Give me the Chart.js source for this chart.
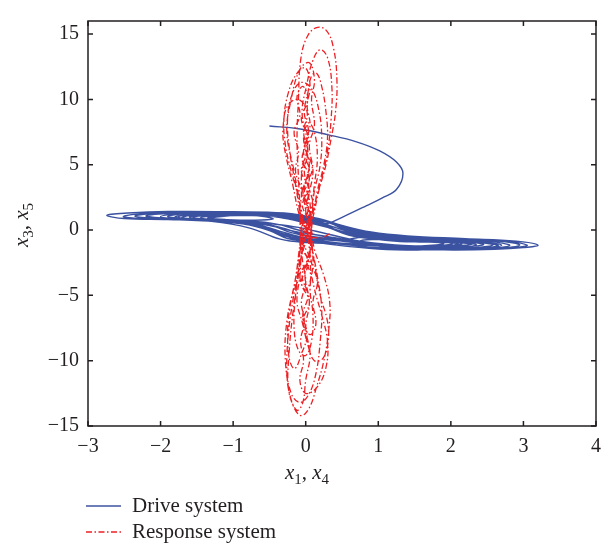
<!DOCTYPE html>
<html>
<head>
<meta charset="utf-8">
<script src="https://cdn.jsdelivr.net/npm/chart.js@4.4.1/dist/chart.umd.min.js"></script>
<style>
  html, body { margin: 0; padding: 0; background: #fff; }
  #wrap { width: 613px; height: 548px; }
</style>
</head>
<body>
<div id="wrap"><canvas id="phaseChart"></canvas></div>
<script>
/* ===== phase portrait data: (x1, x3) drive and (x4, x5) response ===== */

const seriesNames = ["Drive system", "Response system"];
const xTicks = [-3, -2, -1, 0, 1, 2, 3, 4];
const yTicks = [-15, -10, -5, 0, 5, 10, 15];

// drive system: start-up transient, then loops round the two scrolls
const drivePath = [
  [-0.50, 7.96], [-0.10, 7.75], [0.30, 7.30], [0.70, 6.75], [1.02, 6.05], [1.25, 5.20],
  [1.34, 4.33], [1.25, 3.10], [1.05, 2.45], [0.84, 1.87], [0.55, 1.10], [0.31, 0.52],
  [0.12, 0.45], [-0.25, 0.85],
  [-0.60, 1.15], [-1.20, 1.22], [-1.60, 1.10], [-1.70, 0.95], [-1.45, 0.80], [-0.95, 0.65], [-0.50, 0.35], [-0.15, -0.10], [0.25, -0.45],
  [0.80, -0.95], [1.50, -1.30], [2.20, -1.38], [2.58, -1.15], [2.30, -0.90], [1.70, -0.78], [1.10, -0.55], [0.60, -0.10], [0.25, 0.45],
  [-0.30, 1.20], [-1.10, 1.36], [-2.00, 1.33], [-2.40, 1.18], [-2.51, 1.01], [-2.20, 0.87], [-1.50, 0.72], [-0.90, 0.50], [-0.45, 0.00], [-0.20, -0.60], [0.30, -0.90],
  [1.10, -1.42], [1.90, -1.52], [2.60, -1.48], [3.00, -1.35], [3.20, -1.16], [2.90, -0.85], [2.20, -0.66], [1.40, -0.45], [0.90, -0.15], [0.50, 0.35], [0.20, 0.85],
  [-0.30, 1.30], [-1.00, 1.40], [-1.90, 1.42], [-2.45, 1.30], [-2.74, 1.13], [-2.50, 0.88], [-1.90, 0.80], [-1.30, 0.66], [-0.77, 0.15], [-0.35, -0.70], [0.00, -0.95],
  [0.60, -1.05], [1.30, -1.30], [1.90, -1.30], [2.26, -1.10], [2.00, -0.93], [1.50, -0.85], [1.00, -0.70], [0.75, -0.85], [1.00, -1.15],
  [1.60, -1.40], [2.40, -1.42], [2.81, -1.18], [2.50, -0.85], [1.80, -0.70], [1.10, -0.40], [0.60, 0.05], [0.30, 0.60],
  [-0.25, 1.00], [-0.80, 1.15], [-1.30, 1.12], [-1.55, 0.97], [-1.35, 0.82], [-0.90, 0.72], [-0.50, 0.50], [-0.10, 0.20], [0.30, -0.30],
  [0.80, -0.90], [1.40, -1.20], [1.85, -1.18], [2.03, -1.02], [1.85, -0.90], [1.40, -0.85], [0.90, -0.55], [0.50, -0.10], [0.15, 0.50],
  [-0.40, 1.15], [-1.10, 1.30], [-1.80, 1.28], [-2.20, 1.08], [-1.90, 0.90], [-1.40, 0.78], [-0.80, 0.58], [-0.35, 0.20], [0.00, -0.40], [0.40, -0.70],
  [1.20, -1.35], [2.00, -1.48], [2.60, -1.42], [2.95, -1.15], [2.65, -0.85], [2.00, -0.68], [1.30, -0.50], [0.80, -0.25], [0.40, 0.20], [0.15, 0.70],
  [-0.35, 1.10], [-0.90, 1.12], [-1.20, 1.02], [-1.30, 0.90], [-1.10, 0.80], [-0.70, 0.75], [-0.45, 0.85], [-0.60, 1.05], [-1.10, 1.18],
  [-1.60, 1.15], [-1.80, 1.00], [-1.55, 0.82], [-1.00, 0.68], [-0.60, 0.30], [-0.30, -0.30], [0.10, -0.75],
  [0.70, -1.10], [1.40, -1.35], [2.05, -1.33], [2.45, -1.12], [2.20, -0.90], [1.60, -0.80], [1.10, -0.60], [0.70, -0.30], [0.35, 0.30], [0.10, 0.65],
  [-0.50, 1.22], [-1.20, 1.30], [-1.75, 1.22], [-2.00, 1.04], [-1.75, 0.85], [-1.20, 0.72], [-0.70, 0.45], [-0.35, -0.10], [0.00, -0.60], [0.50, -0.85],
  [1.20, -1.25], [1.90, -1.42], [2.40, -1.38], [2.70, -1.17], [2.40, -0.90], [1.80, -0.75], [1.20, -0.60], [0.80, -0.55], [0.60, -0.75], [0.90, -1.05],
  [1.60, -1.25], [2.10, -1.22], [2.30, -1.05], [2.10, -0.92], [1.50, -0.78], [0.95, -0.35], [0.50, 0.20], [0.20, 0.75],
  [-0.35, 1.25], [-1.00, 1.35], [-1.50, 1.25], [-1.75, 1.00], [-1.50, 0.80], [-1.00, 0.62], [-0.60, 0.20], [-0.30, -0.45], [0.15, -0.80],
  [0.80, -1.15], [1.40, -1.25], [1.80, -1.15], [1.90, -1.02], [1.70, -0.92], [1.30, -0.88], [0.90, -0.65], [0.55, -0.25], [0.25, 0.35],
  [-0.20, 0.95], [-0.75, 1.10], [-1.20, 1.08], [-1.45, 0.93], [-1.25, 0.80], [-0.80, 0.70], [-0.40, 0.45], [-0.10, 0.00], [0.30, -0.55],
  [0.90, -1.00], [1.50, -1.22], [1.95, -1.20], [2.10, -1.05], [1.90, -0.93], [1.50, -0.90], [1.00, -0.70], [0.60, -0.40],
  [0.30, 0.20], [-0.10, 0.75],
  [-0.60, 1.28], [-1.30, 1.33], [-1.75, 1.20], [-1.90, 1.02], [-1.65, 0.84], [-1.10, 0.60], [-0.65, 0.30], [-0.40, -0.20], [-0.10, -0.70], [0.30, -0.95],
  [1.00, -1.35], [1.70, -1.45], [2.15, -1.35], [2.35, -1.12], [2.10, -0.93], [1.60, -0.82], [1.10, -0.65], [0.75, -0.45], [0.45, -0.05], [0.20, 0.50],
  [-0.30, 1.05], [-0.85, 1.12], [-1.20, 1.05], [-1.35, 0.90], [-1.15, 0.77], [-0.75, 0.60], [-0.45, 0.30], [-0.20, -0.20], [0.15, -0.60],
  [0.80, -1.05], [1.50, -1.40], [2.20, -1.45], [2.65, -1.20], [2.35, -0.92], [1.75, -0.73], [1.20, -0.50], [0.75, -0.05], [0.35, 0.55],
  [-0.20, 1.12], [-0.90, 1.32], [-1.70, 1.36], [-2.20, 1.22], [-2.35, 1.05], [-2.05, 0.88], [-1.40, 0.75], [-0.85, 0.45], [-0.50, -0.05], [-0.25, -0.65], [0.20, -1.00],
  [1.00, -1.45], [1.80, -1.52], [2.50, -1.46], [2.90, -1.32], [3.05, -1.16], [2.75, -0.85], [2.10, -0.70], [1.50, -0.55], [1.00, -0.30], [0.55, 0.15], [0.25, 0.70],
  [-0.45, 1.20], [-1.05, 1.25], [-1.45, 1.15], [-1.60, 0.98], [-1.40, 0.82], [-1.00, 0.70], [-0.55, 0.45], [-0.25, 0.05], [0.05, -0.50], [0.45, -0.80],
  [1.10, -1.22], [1.75, -1.30], [2.05, -1.18], [2.15, -1.05], [1.95, -0.90], [1.55, -0.83], [1.05, -0.62], [0.70, -0.20], [0.40, 0.35]
];

// response system: tall narrow excursions above and below zero
const responsePath = [
  [0.33, -0.30], [0.20, -0.60], [-0.06, -0.20],
  [0.03, 1.5], [-0.04, 3.0], [0.05, 4.5], [-0.03, 6.0], [0.04, 7.5], [-0.02, 9.0], [0.03, 10.5], [0.08, 11.8], [0.15, 12.0],
  [0.22, 11.0], [0.28, 9.0], [0.30, 7.0], [0.25, 5.0], [0.16, 3.0], [0.09, 1.2],
  [-0.08, -0.5], [0.04, -2.0], [-0.05, -3.5], [0.03, -5.0], [-0.04, -6.5], [0.02, -8.0], [-0.06, -9.5], [-0.15, -10.6],
  [-0.22, -10.0], [-0.25, -8.0], [-0.22, -6.0], [-0.15, -4.0], [-0.10, -2.0],
  [-0.06, 0.5], [-0.10, 2.5], [-0.20, 4.5], [-0.28, 6.5], [-0.30, 8.5], [-0.24, 10.5], [-0.12, 12.0], [0.00, 12.4],
  [0.06, 11.0], [0.02, 9.5], [0.06, 8.0], [-0.01, 6.5], [0.05, 5.0], [0.00, 3.5], [0.06, 2.0],
  [0.07, -0.8], [0.06, -2.5], [0.12, -4.5], [0.22, -6.5], [0.30, -8.5], [0.28, -10.5], [0.16, -12.0], [0.00, -12.5],
  [-0.08, -11.5], [-0.03, -10.0], [-0.07, -8.5], [-0.02, -7.0], [-0.06, -5.5], [0.00, -4.0], [-0.04, -2.5], [-0.07, -1.0],
  [-0.08, 1.5], [-0.10, 4.0], [-0.12, 7.0], [-0.10, 10.0], [-0.07, 13.0], [0.02, 14.8], [0.15, 15.5], [0.28, 15.3],
  [0.38, 14.0], [0.43, 11.5], [0.41, 9.0], [0.35, 7.0], [0.28, 5.0], [0.18, 3.0], [0.10, 1.0],
  [-0.02, -1.0], [-0.10, -3.5], [-0.18, -6.5], [-0.23, -9.5], [-0.24, -12.0], [-0.16, -13.6], [-0.06, -14.2],
  [0.05, -13.6], [0.15, -12.0], [0.25, -10.0], [0.32, -7.5], [0.33, -5.5], [0.25, -3.5], [0.12, -1.5],
  [0.06, 0.5], [-0.05, 2.0], [0.04, 3.2], [-0.06, 4.5], [0.02, 5.6], [0.09, 4.8], [0.04, 3.5], [0.10, 2.0], [0.05, 0.6],
  [-0.08, -1.0], [0.02, -2.2], [-0.08, -3.5], [0.00, -4.6], [0.07, -3.6], [0.02, -2.4], [0.08, -1.0],
  [-0.06, 1.0], [-0.14, 3.5], [-0.22, 6.0], [-0.25, 8.5], [-0.18, 10.5], [-0.06, 11.3], [0.08, 10.8], [0.18, 9.2],
  [0.22, 7.2], [0.20, 5.0], [0.12, 3.0], [0.07, 1.0],
  [-0.07, -1.5], [-0.15, -4.0], [-0.26, -7.0], [-0.28, -10.0], [-0.20, -12.5], [-0.08, -13.2], [0.04, -12.6],
  [0.14, -11.0], [0.20, -8.5], [0.22, -6.0], [0.16, -3.5], [0.08, -1.2],
  [0.00, 1.5], [-0.06, 4.0], [0.02, 6.5], [-0.05, 9.0], [0.01, 11.0], [0.10, 13.0], [0.20, 13.8], [0.30, 13.2],
  [0.36, 11.0], [0.35, 8.5], [0.30, 6.0], [0.20, 3.5], [0.10, 1.5],
  [0.02, -0.5], [-0.08, -2.5], [-0.14, -5.0], [-0.16, -7.5], [-0.10, -9.2], [0.00, -9.6], [0.08, -8.5], [0.10, -6.5],
  [0.06, -4.5], [0.10, -2.5], [0.06, -0.8],
  [-0.08, 1.0], [-0.18, 3.5], [-0.30, 6.5], [-0.31, 8.0], [-0.25, 9.5], [-0.10, 10.0], [0.02, 9.0], [-0.03, 7.5],
  [0.03, 6.0], [-0.02, 4.5], [0.04, 3.0], [0.00, 1.5],
  [0.07, -0.5], [0.12, -2.5], [0.20, -5.0], [0.30, -7.0], [0.31, -8.5], [0.24, -9.8], [0.12, -10.0], [0.03, -8.8],
  [-0.05, -7.0], [-0.12, -5.5], [-0.08, -3.5], [-0.05, -1.5],
  [0.06, 1.0], [-0.02, 3.0], [0.05, 5.0], [-0.03, 7.0], [0.04, 8.2], [0.12, 7.5], [0.16, 5.5], [0.12, 3.5], [0.07, 1.5],
  [-0.06, -1.0], [-0.10, -3.0], [-0.18, -5.5], [-0.24, -8.0], [-0.26, -10.8], [-0.22, -12.6], [-0.12, -13.8], [-0.04, -13.2],
  [0.00, -11.5], [0.06, -9.5], [0.00, -7.5], [0.05, -5.5], [-0.01, -3.5], [0.05, -1.5],
  [-0.06, 1.5], [-0.16, 4.5], [-0.26, 7.5], [-0.20, 10.0], [-0.08, 12.3], [0.05, 12.8], [0.12, 11.5], [0.08, 10.0],
  [0.12, 8.0], [0.05, 6.5], [0.10, 4.5], [0.04, 2.5], [0.03, 0.5],
  [-0.08, -1.0], [0.04, -2.5], [-0.06, -4.0], [0.05, -5.5], [-0.04, -7.0], [0.06, -8.0], [0.14, -7.2], [0.10, -5.5],
  [0.16, -4.0], [0.08, -2.5], [0.06, -1.0],
  [0.08, 1.0], [-0.04, 2.5], [0.05, 4.0], [-0.05, 5.5], [0.04, 7.0], [-0.06, 8.5], [0.03, 10.0], [-0.04, 11.0],
  [-0.12, 10.2], [-0.08, 8.8], [-0.16, 7.5], [-0.10, 6.0], [-0.14, 4.5], [-0.06, 3.0], [-0.08, 1.5], [-0.03, 0.0]
];

const INK = "#231f20";
const SERIF = "'Liberation Serif', 'Times New Roman', serif";

const toPoints = path => path.map(([x, y]) => ({ x, y }));

/* ===== box frame with inward ticks on all four sides ===== */
const boxFrame = {
  id: "boxFrame",
  afterDatasetsDraw(chart) {
    const { ctx, chartArea: a, scales } = chart;
    const len = 5;
    ctx.save();
    ctx.strokeStyle = INK;
    ctx.lineWidth = 1.5;
    ctx.strokeRect(a.left, a.top, a.right - a.left, a.bottom - a.top);
    ctx.beginPath();
    xTicks.forEach(v => {
      const px = scales.x.getPixelForValue(v);
      ctx.moveTo(px, a.bottom); ctx.lineTo(px, a.bottom - len);
      ctx.moveTo(px, a.top); ctx.lineTo(px, a.top + len);
    });
    yTicks.forEach(v => {
      const py = scales.y.getPixelForValue(v);
      ctx.moveTo(a.left, py); ctx.lineTo(a.left + len, py);
      ctx.moveTo(a.right, py); ctx.lineTo(a.right - len, py);
    });
    ctx.stroke();
    ctx.restore();
  }
};

// axis title with subscripts, e.g. x1, x4
function drawSubTitle(ctx, parts, cx, cy, rotate) {
  const big = "italic 21px " + SERIF;
  const small = "15px " + SERIF;
  const plain = "21px " + SERIF;
  const pieces = [];
  parts.forEach((p, i) => {
    pieces.push({ t: "x", f: big, dy: 0 });
    pieces.push({ t: p, f: small, dy: 5 });
    if (i < parts.length - 1) pieces.push({ t: ", ", f: plain, dy: 0 });
  });
  let total = 0;
  pieces.forEach(p => { ctx.font = p.f; p.w = ctx.measureText(p.t).width; total += p.w; });
  ctx.save();
  ctx.translate(cx, cy);
  if (rotate) ctx.rotate(-Math.PI / 2);
  ctx.fillStyle = INK;
  ctx.textBaseline = "alphabetic";
  let x = -total / 2;
  pieces.forEach(p => { ctx.font = p.f; ctx.fillText(p.t, x, 6 + p.dy); x += p.w; });
  ctx.restore();
}

const axisTitles = {
  id: "axisTitles",
  afterDraw(chart) {
    const { ctx } = chart;
    drawSubTitle(ctx, ["1", "4"], 307, 473, false);
    drawSubTitle(ctx, ["3", "5"], 22, 225, true);
  }
};

/* ===== legend stacked under the x title ===== */
const stackedLegend = {
  id: "stackedLegend",
  afterDraw(chart) {
    const { ctx } = chart;
    ctx.save();
    chart.data.datasets.forEach((ds, i) => {
      const y = 506 + i * 26;
      ctx.strokeStyle = ds.borderColor;
      ctx.lineWidth = 1.4;
      ctx.setLineDash(ds.borderDash || []);
      ctx.beginPath();
      ctx.moveTo(86, y); ctx.lineTo(121, y);
      ctx.stroke();
      ctx.setLineDash([]);
      ctx.fillStyle = INK;
      ctx.font = "21px " + SERIF;
      ctx.textBaseline = "middle";
      ctx.fillText(ds.label, 132, y);
    });
    ctx.restore();
  }
};

const ctxPhase = document.getElementById("phaseChart");

new Chart(ctxPhase, {
  type: "scatter",
  data: {
    datasets: [{
      label: seriesNames[0],
      data: toPoints(drivePath),
      showLine: true,
      borderColor: "#3b52a1",
      borderWidth: 1.4,
      pointRadius: 0,
      tension: 0.4,
      order: 1
    }, {
      label: seriesNames[1],
      data: toPoints(responsePath),
      showLine: true,
      borderColor: "#ed2024",
      borderWidth: 1.3,
      borderDash: [6, 2.5, 1.5, 2.5],
      pointRadius: 0,
      tension: 0.4,
      order: 0
    }]
  },
  options: {
    responsive: true,
    maintainAspectRatio: false,
    animation: false,
    layout: { padding: { top: 5, right: 17, left: 0, bottom: 0 } },
    plugins: {
      legend: { display: false },
      tooltip: { enabled: false }
    },
    scales: {
      x: {
        type: "linear",
        min: -3,
        max: 4,
        grid: { display: false, drawTicks: false },
        border: { display: false },
        afterBuildTicks: scale => { scale.ticks = xTicks.map(v => ({ value: v })); },
        afterFit: scale => { scale.height = 122; },
        ticks: {
          padding: 9,
          color: INK,
          font: { family: SERIF, size: 20 },
          callback: v => (v < 0 ? "\u2212" + Math.abs(v) : String(v))
        }
      },
      y: {
        type: "linear",
        min: -15,
        max: 16,
        grid: { display: false, drawTicks: false },
        border: { display: false },
        afterBuildTicks: scale => { scale.ticks = yTicks.map(v => ({ value: v })); },
        afterFit: scale => { scale.width = 88; },
        ticks: {
          padding: 9,
          color: INK,
          font: { family: SERIF, size: 20 },
          callback: v => (v < 0 ? "\u2212" + Math.abs(v) : String(v))
        }
      }
    }
  },
  plugins: [boxFrame, axisTitles, stackedLegend]
});
</script>
</body>
</html>
